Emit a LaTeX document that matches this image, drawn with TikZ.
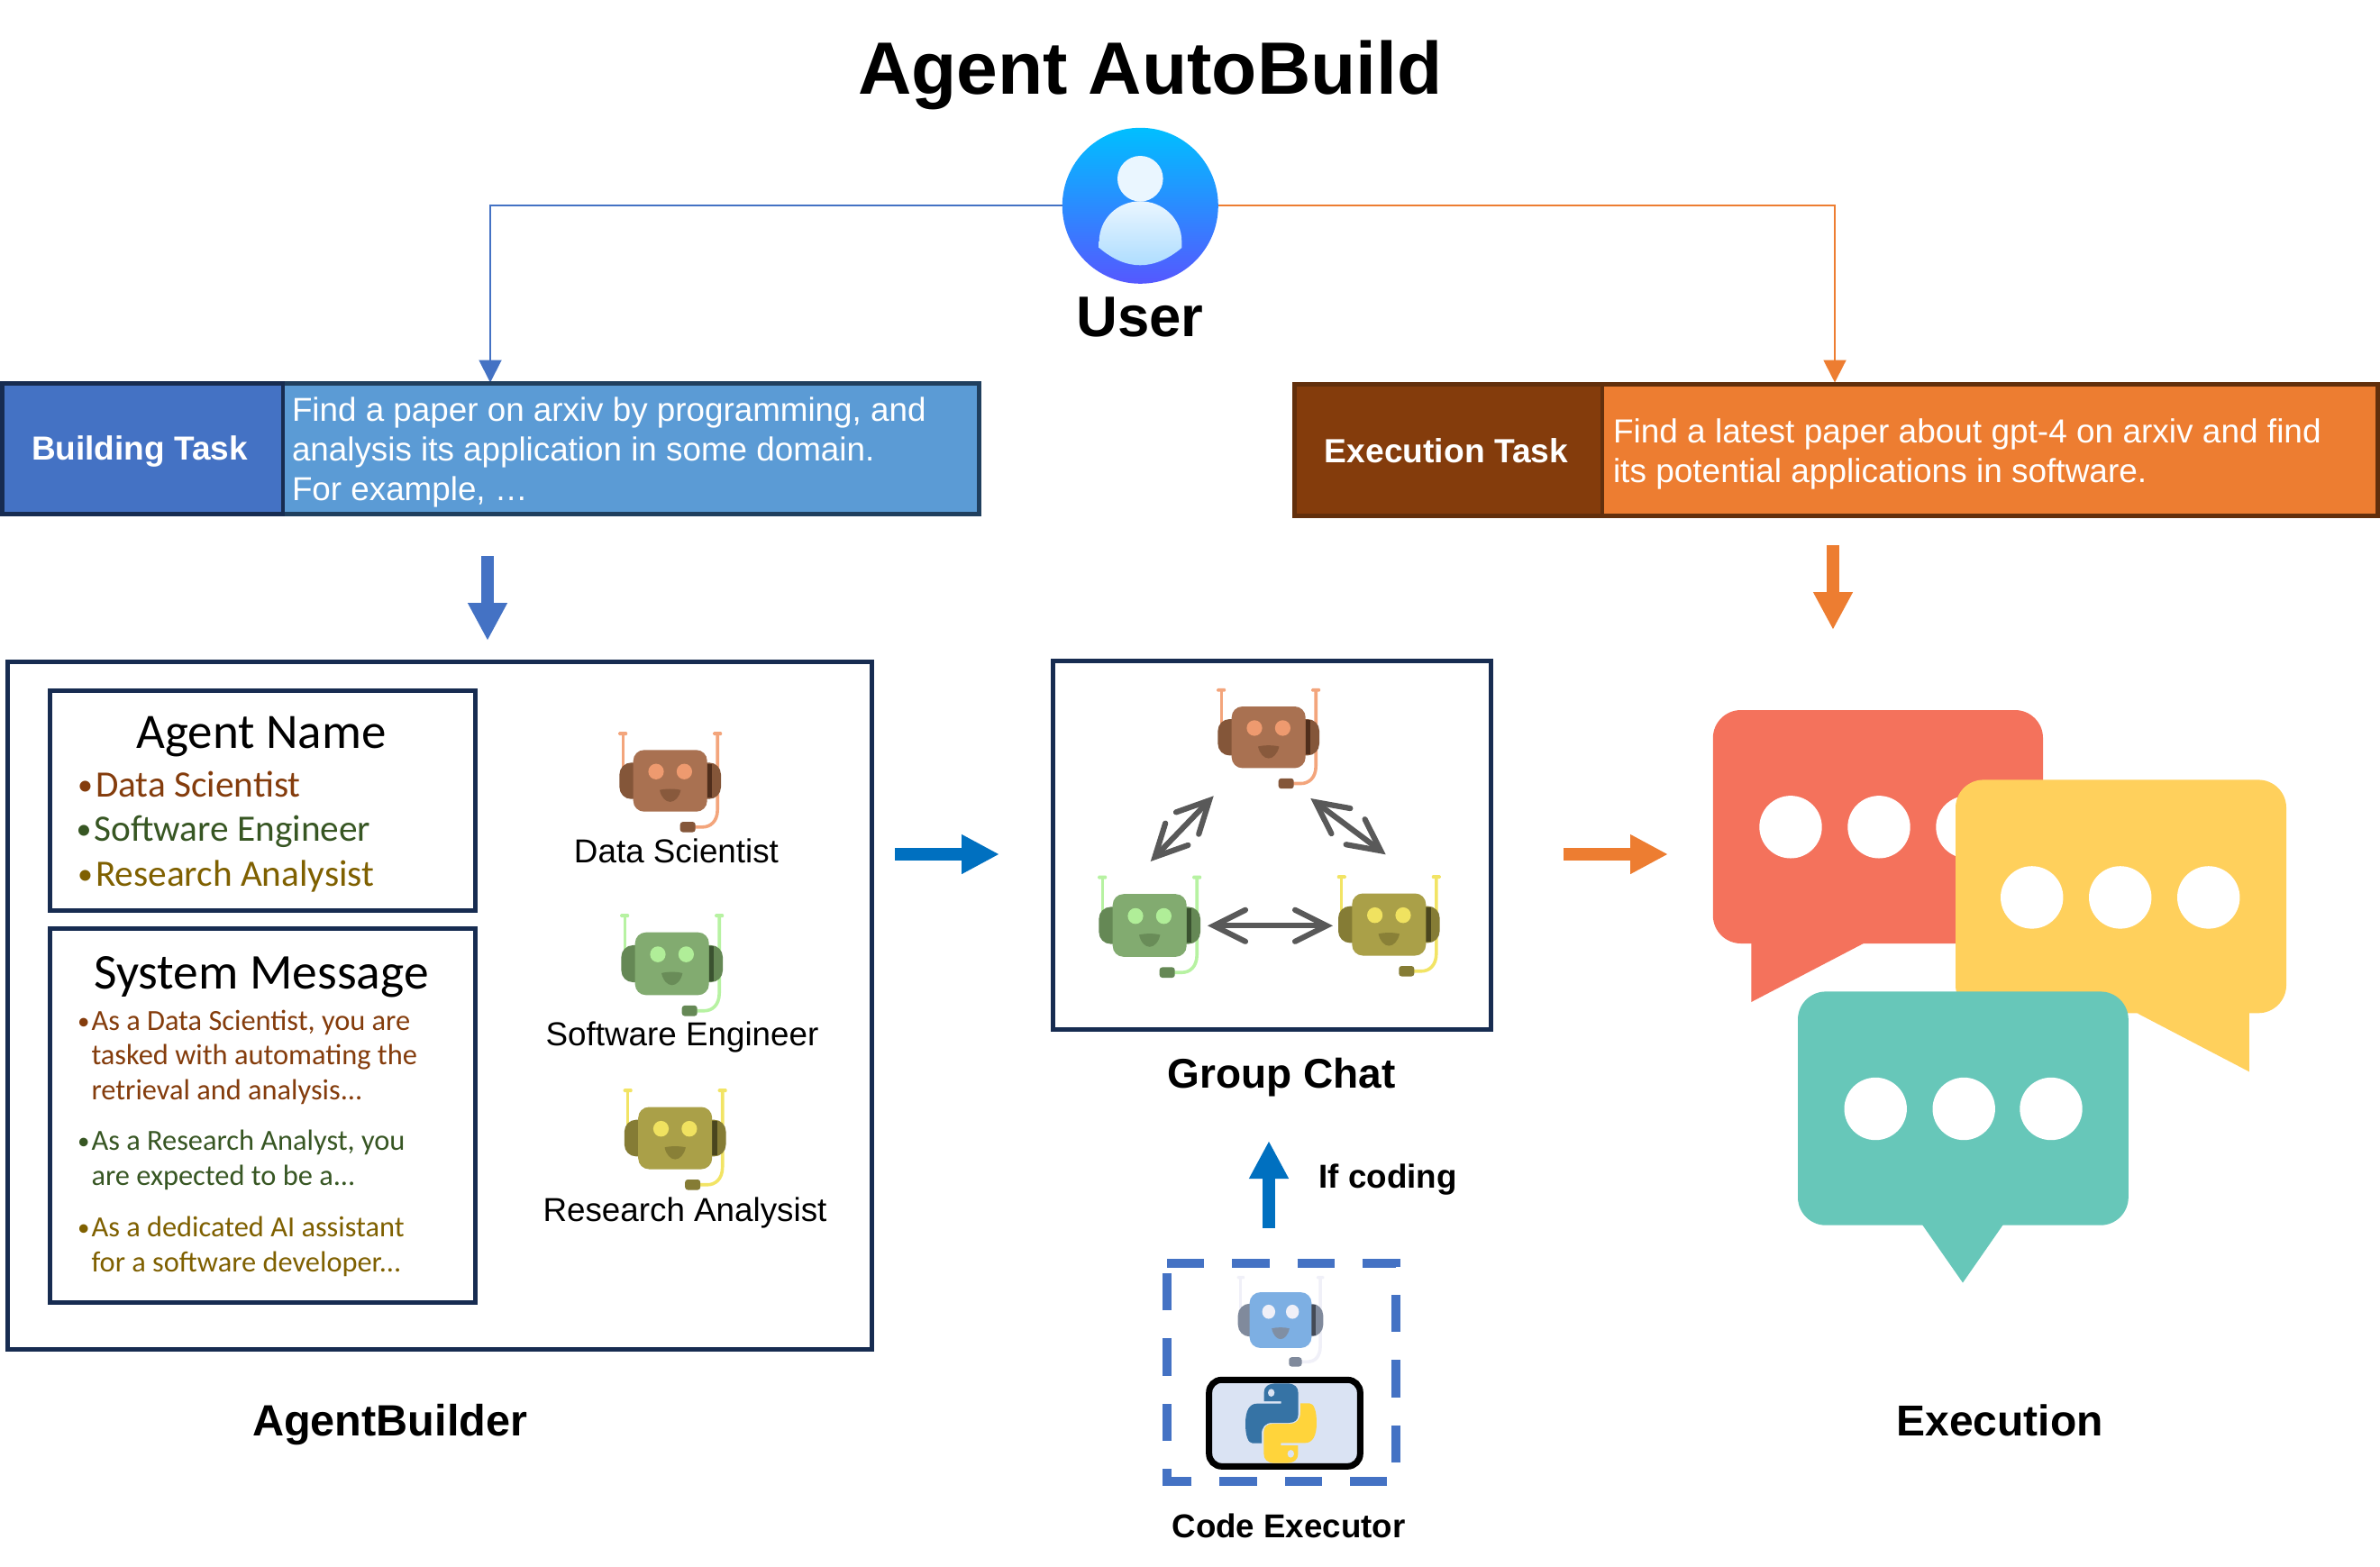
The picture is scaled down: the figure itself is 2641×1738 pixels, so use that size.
\documentclass[tikz,border=0pt]{standalone}
\usepackage{fontspec}
\setmainfont{Liberation Sans}
\newfontfamily\calfont{Carlito}
\usetikzlibrary{arrows.meta}
\newcommand{\szf}[2]{\fontsize{#1}{#2}\selectfont}
\newcommand{\bigbul}{\makebox[0pt][r]{\raisebox{2pt}{\szf{34}{34}•}\kern 3pt}}
\newcommand{\smbul}{\makebox[0pt][r]{\raisebox{1.5pt}{\szf{27}{27}•}\kern 2pt}}
\definecolor{navybox}{HTML}{172C51}
\definecolor{bluea}{HTML}{4472C4}
\definecolor{blueb}{HTML}{5B9BD5}
\definecolor{blueedge}{HTML}{203F5E}
\definecolor{blued}{HTML}{0070C0}
\definecolor{orangea}{HTML}{ED7D31}
\definecolor{browna}{HTML}{843C0C}
\definecolor{brownb}{HTML}{622F0C}
\definecolor{greent}{HTML}{375623}
\definecolor{goldt}{HTML}{7F6000}
\definecolor{arrowgray}{HTML}{595959}
\definecolor{pyb}{HTML}{3673A5}
\definecolor{pyy}{HTML}{FFD43B}
\definecolor{pybg}{HTML}{DAE3F3}
\definecolor{usertop}{HTML}{00BFFF}
\definecolor{userbot}{HTML}{5558FF}
\definecolor{facetop}{HTML}{EAF6FF}
\definecolor{facebot}{HTML}{AEDDFF}
\tikzset{
  x=1pt,y=-1pt,
  txt/.style={inner sep=0pt,outer sep=0pt,anchor=base},
  txtl/.style={inner sep=0pt,outer sep=0pt,anchor=base west,align=left},
  boxline/.style={draw=navybox,line width=5pt},
  blockarrow/.style={line width=14pt,-{Triangle[length=42pt,width=41pt]}},
  thinlink/.style={line width=2pt,-{Triangle[length=25pt,width=25pt]}},
  chatlink/.style={draw=arrowgray,line width=6.2pt,
    {Straight Barb[length=35pt,width=35pt,line cap=round,line join=miter]}-{Straight Barb[length=35pt,width=35pt,line cap=round,line join=miter]}},
  dot/.style={fill=white,draw=none},
}
% x y xscale yscale body ears strip wire eyes
\newcommand{\robotat}[9]{%
\begin{scope}[shift={(#1,#2)},xscale=#3,yscale=#4]
  \definecolor{rbody}{HTML}{#5}\definecolor{rear}{HTML}{#6}\definecolor{rstrip}{HTML}{#7}\definecolor{rwire}{HTML}{#8}\definecolor{reye}{HTML}{#9}
  \draw[rwire,line width=3pt] (-52.5,-46) -- (-52.5,-10);
  \fill[rwire,rounded corners=1.2pt] (-57.5,-47.7) rectangle (-47.5,-44.3);
  \fill[rwire,rounded corners=1.2pt] (47.5,-47.7) rectangle (57.5,-44.3);
  \draw[rwire,line width=3.6pt] (52.5,-46) -- (52.5,28) .. controls (52.5,40) and (44,45) .. (36,45) -- (20,45);
  \fill[rear,rounded corners=13pt] (-56.3,-17.7) rectangle (-20,17.7);
  \fill[rear,rounded corners=13pt] (20,-17.7) rectangle (56.3,17.7);
  \fill[rstrip] (41,-16.5) rectangle (46.5,16.5);
  \fill[rbody,rounded corners=12pt] (-41,-30) rectangle (41,30);
  \fill[reye] (-15.7,-9) ellipse [x radius=8.6,y radius=7.6];
  \fill[reye] (15.7,-9) ellipse [x radius=8.6,y radius=7.6];
  \fill[rear!88!rbody] (-11.7,9) .. controls (-5,7.5) and (5,7.5) .. (11.7,9) .. controls (10,16) and (5,20.5) .. (0,20.5) .. controls (-5,20.5) and (-10,16) .. (-11.7,9) -- cycle;
  \fill[rear,rounded corners=3pt] (11,40) rectangle (28,50);
\end{scope}}
\newcommand{\brobot}[4]{\robotat{#1}{#2}{#3}{#4}{A97151}{845639}{4F2E1C}{F3A57C}{EE9A6F}}
\newcommand{\grobot}[4]{\robotat{#1}{#2}{#3}{#4}{82AB70}{658855}{3A5230}{B7F2A2}{B0EE98}}
\newcommand{\yrobot}[4]{\robotat{#1}{#2}{#3}{#4}{AAA048}{857C35}{4A461E}{F2E465}{F0E260}}
\newcommand{\pysnake}[1]{\fill[#1] (428,525) -- (428,495) .. controls (428,478) and (440,466) .. (470,466) -- (505,466) .. controls (530,466) and (542,478) .. (542,498) -- (542,568) .. controls (542,588) and (530,597) .. (510,597) -- (455,597) .. controls (432,597) and (420,612) .. (420,635) -- (420,665) -- (390,665) .. controls (375,665) and (366,640) .. (366,600) .. controls (366,555) and (380,533) .. (405,533) -- (485,533) -- (485,525) -- cycle;}
\newcommand{\bubble}[8]{% fill, x1,y1,x2,y2, tail
  \fill[#1,rounded corners=31pt] (#2,#3) rectangle (#4,#5);
  \fill[#1] #6 -- #7 -- #8 -- cycle;}
\begin{document}
\begin{tikzpicture}
\useasboundingbox (0,0) rectangle (2641,1738);
\fill[white] (0,0) rectangle (2641,1738);

% title
\node[txt,font=\bfseries\szf{82.2}{90}] (title) at (1276.5,104.5) {Agent AutoBuild};

% user
\node[circle,minimum size=173pt,inner sep=0pt,outer sep=0pt,top color=usertop,bottom color=userbot] (user) at (1265.3,228.3) {};
\fill[facetop] (1265.3,198.3) circle [radius=25.3];
\shade[top color=facetop,bottom color=facebot] (1219.7,275) .. controls (1235,288) and (1250,294.3) .. (1265.3,294.3) .. controls (1280,294.3) and (1296,288) .. (1311.3,275) -- (1311.3,268) .. controls (1311.3,243) and (1290.5,223.3) .. (1265.3,223.3) .. controls (1240,223.3) and (1219.7,243) .. (1219.7,268) -- cycle;
\node[txt,font=\bfseries\szf{63.5}{70}] (usertxt) at (1265,373) {User};

\coordinate (btop) at (544,424.5);
\coordinate (etop) at (2036,424.5);
\draw[thinlink,bluea] (user.west) -| (btop);
\draw[thinlink,orangea] (user.east) -| (etop);

% task boxes
\draw[fill=blueb,draw=blueedge,line width=4.7pt] (314,425.4) rectangle (1086.7,570.7);
\draw[fill=bluea,draw=navybox,line width=4.7pt] (2.5,425.4) rectangle (314,570.7);
\node[txt,white,font=\bfseries\szf{37}{44}] (bname) at (155,510.5) {Building Task};
\node[txtl,white,font=\szf{36.8}{44}] (btext) at (324,555) {Find a paper on arxiv by programming, and\\analysis its application in some domain.\\For example, \dots};

\draw[fill=orangea,draw=brownb,line width=4.7pt] (1778,426.4) rectangle (2638.7,572.6);
\draw[fill=browna,draw=brownb,line width=4.7pt] (1436.4,426.4) rectangle (1778,572.6);
\node[txt,white,font=\bfseries\szf{37.2}{44}] (ename) at (1605,513) {Execution Task};
\node[txtl,white,font=\szf{37}{44}] (etext) at (1790,535) {Find a latest paper about gpt-4 on arxiv and find\\its potential applications in software.};

% block arrows
\coordinate (a1s) at (541,617); \coordinate (a1e) at (541,711);
\draw[blockarrow,bluea] (a1s) -- (a1e);
\coordinate (a2s) at (2034,605); \coordinate (a2e) at (2034,699);
\draw[blockarrow,orangea] (a2s) -- (a2e);
\coordinate (a3s) at (993,948); \coordinate (a3e) at (1109,948);
\draw[blockarrow,blued] (a3s) -- (a3e);
\coordinate (a4s) at (1735,948); \coordinate (a4e) at (1851,948);
\draw[blockarrow,orangea] (a4s) -- (a4e);
\coordinate (a5s) at (1408,1363); \coordinate (a5e) at (1408,1266);
\draw[blockarrow,blued] (a5s) -- (a5e);

% AgentBuilder
\draw[boxline,line join=miter] (8,734) rectangle (967,1497);
\draw[boxline] (55.5,766.5) rectangle (527.5,1010.5);
\draw[boxline] (55.5,1030.5) rectangle (527.5,1445.5);
\node[txt,font=\calfont\szf{55}{60}] (anhead) at (290,830.5) {Agent Name};
\node[txtl,browna,font=\calfont\szf{41.3}{48}] (an1) at (106,884) {\bigbul Data Scientist};
\node[txtl,greent,font=\calfont\szf{41.3}{48}] (an2) at (104.5,933) {\bigbul Software Engineer};
\node[txtl,goldt,font=\calfont\szf{41.3}{48}] (an3) at (106,983) {\bigbul Research Analysist};
\node[txt,font=\calfont\szf{55.5}{60}] (smhead) at (290,1097) {System Message};
\node[txtl,browna,font=\calfont\szf{32.4}{38.2}] (sm1) at (101.5,1220) {\smbul As a Data Scientist, you are\\tasked with automating the\\retrieval and analysis...};
\node[txtl,greent,font=\calfont\szf{32.4}{38.2}] (sm2) at (101.5,1315) {\smbul As a Research Analyst, you\\are expected to be a...};
\node[txtl,goldt,font=\calfont\szf{32.4}{38.2}] (sm3) at (101.5,1411) {\smbul As a dedicated AI assistant\\for a software developer...};

\brobot{743.7}{866.5}{1}{1.14}
\grobot{745.7}{1069.5}{1}{1.16}
\yrobot{749.2}{1263}{1}{1.15}
\node[txt,font=\szf{36.8}{44}] (lds) at (750.5,957) {Data Scientist};
\node[txt,font=\szf{36.8}{44}] (lse) at (757,1160) {Software Engineer};
\node[txt,font=\szf{36.8}{44}] (lra) at (760,1355) {Research Analysist};
\node[txt,font=\bfseries\szf{48.6}{54}] (abl) at (432.7,1593.5) {AgentBuilder};

% Group chat
\draw[boxline] (1168.5,733.5) rectangle (1654.5,1142.5);
\brobot{1407.7}{818.2}{1}{1.14}
\grobot{1275.7}{1027}{1}{1.16}
\yrobot{1541.3}{1026}{1}{1.15}
\coordinate (g1a) at (1346.7,883.3); \coordinate (g1b) at (1276.7,956);
\coordinate (g2a) at (1454.3,886);   \coordinate (g2b) at (1537.7,948.3);
\coordinate (g3a) at (1340,1027.3);  \coordinate (g3b) at (1479,1027.3);
\draw[chatlink] (g1a) -- (g1b);
\draw[chatlink] (g2a) -- (g2b);
\draw[chatlink] (g3a) -- (g3b);
\node[txt,font=\bfseries\szf{46}{52}] (gcl) at (1422,1207) {Group Chat};
\node[txtl,font=\bfseries\szf{36.8}{44}] (ifc) at (1463.5,1318) {If coding};

% Code executor
\draw[bluea,line width=10pt,dash pattern=on 41.3pt off 31pt] (1295,1401.7) -- (1549,1401.7) -- (1549,1644) -- (1295,1644) -- cycle;
\robotat{1421}{1465}{0.84}{1.03}{7DAFE3}{808A9C}{444A55}{F0F0F8}{F0F0F8}
\draw[fill=pybg,draw=black,line width=7pt,rounded corners=14pt] (1341.7,1531.3) rectangle (1509.3,1627.3);
\begin{scope}[shift={(1260,1380)},xscale=0.3333,yscale=0.3333]
  \pysnake{pyb}
  \fill[pybg] (452,497) ellipse [x radius=11,y radius=13];
  \begin{scope}[rotate around={180:(484.5,598.5)}]
    \pysnake{pyy}
    \fill[pybg] (452,497) ellipse [x radius=11,y radius=13];
  \end{scope}
\end{scope}
\node[txt,font=\bfseries\szf{36.7}{44}] (cel) at (1430,1706.5) {Code Executor};

% Bubbles
\definecolor{bred}{HTML}{F4725C}\definecolor{byel}{HTML}{FFD05C}\definecolor{btea}{HTML}{67C7B9}
\bubble{bred}{1900.8}{788}{2267}{1047}{(1943.3,1040)}{(1943.3,1112)}{(2067.8,1047)}
\fill[dot] (1987,917.8) circle [radius=34.7];
\fill[dot] (2085,917.8) circle [radius=34.7];
\fill[dot] (2183,917.8) circle [radius=34.7];
\bubble{byel}{2170}{865.4}{2537}{1124.3}{(2371.3,1124.3)}{(2495.8,1189.3)}{(2495.8,1120)}
\fill[dot] (2254.7,995.9) circle [radius=34.7];
\fill[dot] (2352.7,995.9) circle [radius=34.7];
\fill[dot] (2450.7,995.9) circle [radius=34.7];
\bubble{btea}{1995}{1100.4}{2361.8}{1359.7}{(2130.2,1355)}{(2178,1423.5)}{(2225.6,1355)}
\fill[dot] (2081.2,1230.5) circle [radius=34.7];
\fill[dot] (2179.2,1230.5) circle [radius=34.7];
\fill[dot] (2276,1230.5) circle [radius=34.7];
\node[txt,font=\bfseries\szf{48}{54}] (exl) at (2219,1593.5) {Execution};
\end{tikzpicture}
\end{document}
